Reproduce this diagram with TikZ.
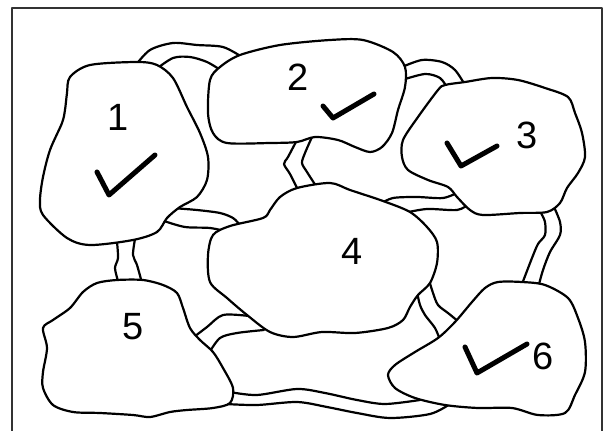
\documentclass[tikz,border=0pt]{standalone}
\usepackage{fontspec}
\setmainfont{Liberation Sans}
\begin{document}
\begin{tikzpicture}[x=1pt,y=-1pt, line join=round, line cap=round,
  outline/.style={line width=2.2pt},
  island/.style={outline, fill=white},
  bridge/.style={outline},
  tick/.style={line width=5pt},
  num/.style={font=\fontsize{38}{38}\selectfont, inner sep=0pt}]
\useasboundingbox (0,0) rectangle (611,431);
\fill[white] (0,0) rectangle (611,431);
\draw[line width=2pt, black!80] (12,432) -- (12,8) -- (602,8) -- (602,432);

% bridges
% 1-2
\draw[bridge] plot[smooth] coordinates {(135,66) (150,50) (173,43) (197,45) (223,47) (242,57)};
\draw[bridge] plot[smooth] coordinates {(155,70) (173,58) (190,57) (207,62) (222,71)};
% 2-3
\draw[bridge] plot[smooth] coordinates {(402,67) (422,60) (442,62) (455,70) (465,85)};
\draw[bridge] plot[smooth] coordinates {(402,80) (425,74) (440,78) (448,89)};
% 2-4
\draw[bridge] plot[smooth] coordinates {(297,140) (288,157) (284,164) (290,174) (298,190)};
\draw[bridge] plot[smooth] coordinates {(312,137) (305,153) (302,163) (307,172) (316,186)};
% 1-4
\draw[bridge] plot[smooth] coordinates {(172,208) (197,210) (220,213) (233,218) (240,225)};
\draw[bridge] plot[smooth] coordinates {(164,221) (185,227) (210,228) (229,232)};
% 1-5
\draw[bridge] plot[smooth] coordinates {(117,242) (118,258) (115,268) (118,281)};
\draw[bridge] plot[smooth] coordinates {(135,239) (133,255) (137,265) (142,283)};
% 3-4
\draw[bridge] plot[smooth] coordinates {(380,204) (393,198) (417,197) (443,198) (459,192)};
\draw[bridge] plot[smooth] coordinates {(404,213) (427,209) (457,210) (469,204)};
% 3-6
\draw[bridge] plot[smooth] coordinates {(541,213) (545,222) (545,235) (538,244) (532,258) (522,284)};
\draw[bridge] plot[smooth] coordinates {(554,207) (560,222) (560,235) (550,252) (543,270) (538,288)};
% 4-6
\draw[bridge] plot[smooth] coordinates {(417,292) (420,305) (425,315) (435,328) (440,340)};
\draw[bridge] plot[smooth] coordinates {(429,280) (433,293) (438,305) (448,313) (459,322)};
% 4-5
\draw[bridge] plot[smooth] coordinates {(190,340) (207,327) (223,315) (249,316)};
\draw[bridge] plot[smooth] coordinates {(209,353) (220,338) (237,333) (264,330)};
% 5-6
\draw[bridge] plot[smooth] coordinates {(230,392) (257,395) (297,389) (325,393) (357,400) (385,404) (420,400)};
\draw[bridge] plot[smooth] coordinates {(226,404) (257,405) (297,402) (327,407) (357,413) (390,418) (430,414) (450,404)};

% islands
\draw[island] plot[smooth cycle] coordinates {(70,77) (90,65) (137,62) (157,65) (173,78) (187,107) (200,133) (208,157) (207,180) (197,197) (180,207) (167,218) (157,232) (133,240) (90,245) (67,238) (43,215) (40,200) (43,177) (50,150) (62,123) (65,110) (67,93)};
\draw[island] plot[smooth cycle] coordinates {(220,67) (240,55) (280,45) (330,40) (363,40) (393,52) (405,67) (405,87) (398,110) (392,133) (382,147) (370,152) (355,147) (338,140) (315,137) (297,142) (270,143) (227,143) (213,133) (208,113) (210,80)};
\draw[island] plot[smooth cycle] coordinates {(445,85) (465,82) (492,78) (518,80) (545,88) (568,97) (575,113) (582,133) (585,157) (578,173) (567,188) (560,203) (547,212) (520,213) (483,215) (470,210) (457,197) (448,187) (428,180) (408,170) (402,157) (403,140) (418,117) (438,90)};
\draw[island] plot[smooth cycle] coordinates {(330,183) (350,190) (383,201) (410,212) (427,227) (437,242) (437,263) (430,283) (418,295) (410,307) (403,320) (388,328) (355,333) (322,332) (293,337) (270,332) (247,315) (227,298) (210,282) (208,255) (213,235) (230,226) (263,218) (270,210) (280,197) (297,188)};
\draw[island] plot[smooth cycle] coordinates {(43,328) (53,320) (70,308) (83,292) (97,283) (117,280) (143,280) (163,285) (177,293) (183,308) (190,328) (200,340) (213,352) (223,368) (233,388) (230,403) (213,408) (187,410) (170,412) (150,417) (133,415) (100,413) (73,412) (53,405) (43,388) (43,372) (47,348)};
\draw[island] plot[smooth cycle] coordinates {(498,282) (522,282) (545,285) (568,298) (578,318) (585,342) (585,372) (575,395) (565,413) (538,415) (512,408) (478,408) (445,405) (415,398) (395,388) (388,375) (395,365) (415,352) (438,338) (455,322) (472,302) (485,288)};

% labels
\node[num] (n1) at (118,117) {1};
\node[num] (n2) at (298,77) {2};
\node[num] (n3) at (527,135) {3};
\node[num] (n4) at (352,251) {4};
\node[num] (n5) at (133,327) {5};
\node[num] (n6) at (543,356) {6};

% check marks
\draw[tick] (97,172) -- (109,195) -- (155,155);
\draw[tick] (323,106) -- (333,118) -- (374,94);
\draw[tick] (447,143) -- (461,166) -- (497,146);
\draw[tick] (465,347) -- (477,373) -- (527,344);
\end{tikzpicture}
\end{document}
